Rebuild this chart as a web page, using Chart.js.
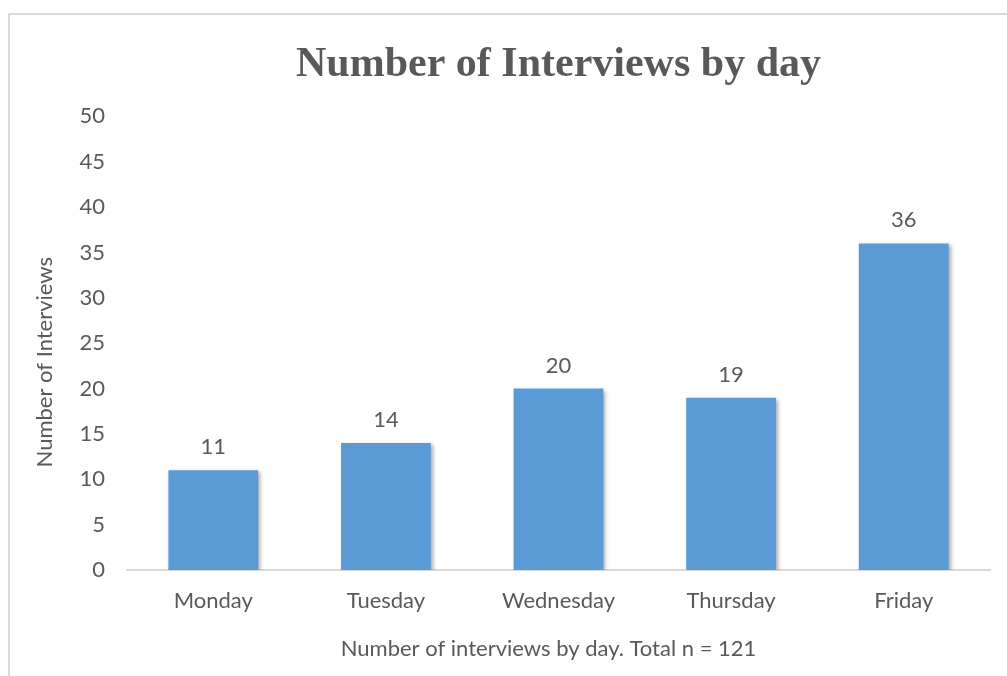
<!DOCTYPE html>
<html>
<head>
<meta charset="utf-8">
<script src="https://cdn.jsdelivr.net/npm/chart.js@4/dist/chart.umd.min.js"></script>
<style>
  html, body { margin: 0; padding: 0; background: #fff; overflow: hidden; }
  #frame { position: absolute; left: 8px; top: 13px; width: 1020px; height: 700px; border: 2px solid #d9d9d9; }
  #chart { position: absolute; left: 0; top: 0; }
</style>
</head>
<body>
<div id="frame"></div>
<canvas id="chart" width="1007" height="676"></canvas>
<script>
// Interviews per weekday
const days = ["Monday", "Tuesday", "Wednesday", "Thursday", "Friday"];
const interviews = [11, 14, 20, 19, 36];
const yTicks = [0, 5, 10, 15, 20, 25, 30, 35, 40, 45, 50];

const TEXT = "#595959";
const BAR = "#5B9BD5";
const SANS = "Lato, 'Open Sans', sans-serif";
const FS = 22;

// soft drop shadow under the bars
const barShadow = {
  id: "barShadow",
  beforeDatasetsDraw(chart) {
    const c = chart.ctx;
    c.save();
    c.shadowColor = "rgba(0,0,0,0.35)";
    c.shadowBlur = 4;
    c.shadowOffsetX = 2;
    c.shadowOffsetY = 2;
  },
  afterDatasetsDraw(chart) { chart.ctx.restore(); }
};

// value printed above each bar
const barLabels = {
  id: "barLabels",
  afterDatasetsDraw(chart) {
    const c = chart.ctx;
    const meta = chart.getDatasetMeta(0);
    c.save();
    c.font = FS + "px " + SANS;
    c.fillStyle = TEXT;
    c.textAlign = "center";
    c.textBaseline = "alphabetic";
    meta.data.forEach((bar, i) => {
      c.fillText(String(chart.data.datasets[0].data[i]), bar.x, bar.y - 16);
    });
    c.restore();
  }
};

// axis captions, placed a little off the scale centres like the Excel layout
const axisCaptions = {
  id: "axisCaptions",
  afterDraw(chart) {
    const c = chart.ctx;
    const a = chart.chartArea;
    c.save();
    c.font = FS + "px " + SANS;
    c.fillStyle = TEXT;
    c.textAlign = "center";
    c.textBaseline = "middle";
    c.fillText("Number of interviews by day. Total n = 121", (a.left + a.right) / 2 - 10, a.bottom + 79);
    c.translate(45, (a.top + a.bottom) / 2 + 19);
    c.rotate(-Math.PI / 2);
    c.fillText("Number of Interviews", 0, 0);
    c.restore();
  }
};

new Chart(document.getElementById("chart"), {
  type: "bar",
  data: {
    labels: days,
    datasets: [{ data: interviews, backgroundColor: BAR, barPercentage: 0.52, categoryPercentage: 1 }]
  },
  options: {
    responsive: false,
    animation: false,
    layout: { padding: { left: 0, right: 17, top: 0, bottom: 0 } },
    plugins: {
      legend: { display: false },
      tooltip: { enabled: false },
      title: {
        display: true,
        fullSize: false,
        text: "Number of Interviews by day",
        color: TEXT,
        font: { family: "'Liberation Serif', 'Times New Roman', serif", size: 42, weight: "bold" },
        padding: { top: 40, bottom: 26 }
      }
    },
    scales: {
      x: {
        grid: { display: false, drawTicks: false },
        border: { display: true, color: "#d9d9d9", width: 2 },
        ticks: { color: TEXT, font: { family: SANS, size: FS }, padding: 18 },
        afterFit(s) { s.height = 106; }
      },
      y: {
        min: 0, max: 50,
        grid: { display: false, drawTicks: false },
        border: { display: false },
        afterBuildTicks(s) { s.ticks = yTicks.map(v => ({ value: v })); },
        ticks: { color: TEXT, font: { family: SANS, size: FS }, padding: 22 },
        afterFit(s) { s.width = 127; }
      }
    }
  },
  plugins: [barShadow, barLabels, axisCaptions]
});
</script>
</body>
</html>
